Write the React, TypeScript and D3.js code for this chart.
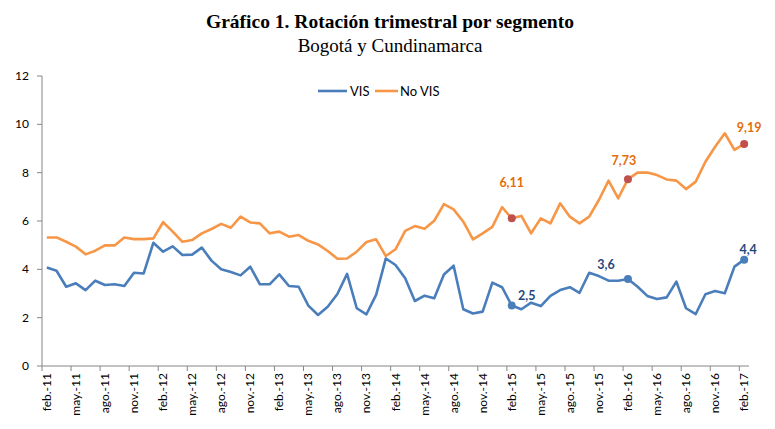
import React from "react";
import * as d3 from "d3";

const meses = ["ene.", "feb.", "mar.", "abr.", "may.", "jun.", "jul.", "ago.", "sep.", "oct.", "nov.", "dic."];

// feb-11 ... feb-17, mensual
const categorias: string[] = [];
for (let i = 0; i < 73; i++) {
  const m = (1 + i) % 12;
  const a = 11 + Math.floor((1 + i) / 12);
  categorias.push(meses[m] + "-" + a);
}

const vis = [
  4.08, 3.94, 3.28, 3.42, 3.14, 3.53, 3.35, 3.38, 3.31, 3.86, 3.83, 5.1, 4.73,
  4.95, 4.59, 4.61, 4.9, 4.36, 4.0, 3.89, 3.75, 4.11, 3.38, 3.38, 3.79,
  3.31, 3.28, 2.5, 2.11, 2.45, 2.98, 3.81, 2.39, 2.14, 2.94, 4.45, 4.18, 3.63,
  2.69, 2.91, 2.8, 3.79, 4.15, 2.35, 2.17, 2.25, 3.45, 3.26, 2.5, 2.35,
  2.62, 2.48, 2.9, 3.14, 3.26, 3.03, 3.86, 3.72, 3.53, 3.53, 3.6, 3.28,
  2.9, 2.77, 2.84, 3.49, 2.39, 2.15, 2.97, 3.1, 3.01, 4.11, 4.4,
];

const noVis = [
  5.32, 5.32, 5.14, 4.94, 4.62, 4.77, 4.99, 4.99, 5.32, 5.25, 5.25, 5.28, 5.95,
  5.56, 5.14, 5.21, 5.49, 5.67, 5.88, 5.72, 6.18, 5.94, 5.9, 5.49, 5.56,
  5.35, 5.42, 5.18, 5.03, 4.76, 4.44, 4.45, 4.73, 5.13, 5.24, 4.55, 4.83, 5.59,
  5.79, 5.68, 6.01, 6.7, 6.48, 5.97, 5.24, 5.49, 5.76, 6.57, 6.11, 6.21,
  5.49, 6.11, 5.9, 6.73, 6.18, 5.9, 6.18, 6.87, 7.67, 6.94, 7.73, 8.0,
  8.01, 7.9, 7.72, 7.67, 7.32, 7.63, 8.45, 9.07, 9.63, 8.94, 9.19,
];

// puntos destacados (feb-15, feb-16, feb-17)
const destacados = [48, 60, 72];
const etiquetasVis = ["2,5", "3,6", "4,4"];
const etiquetasNoVis = ["6,11", "7,73", "9,19"];
const yTicks = [0, 2, 4, 6, 8, 10, 12];

const azul = "#4A7EBB";
const naranja = "#F79646";

export default function App() {
  const x = d3.scaleBand<number>().domain(d3.range(73)).range([42, 749]);
  const y = d3.scaleLinear().domain([0, 12]).range([366, 76]);
  const cx = (i: number) => (x(i) as number) + x.bandwidth() / 2;

  const linea = d3
    .line<number>()
    .x((_, i) => cx(i))
    .y((d) => y(d));

  const ticksX = d3.range(0, 74, 3);

  // desplazamiento de las etiquetas respecto al punto
  const offVis = [[15, -6], [-22, -10], [4, -6]];
  const offNo = [[0, -31], [-4, -14], [5, -12]];

  return (
    <svg width={775} height={429} style={{ position: "absolute", left: 0, top: 0 }}>
      <rect width={775} height={429} fill="#fff" />
      <text x={390} y={28} textAnchor="middle" fontFamily="Liberation Serif" fontWeight="bold" fontSize={19.5}>
        Gráfico 1. Rotación trimestral  por segmento
      </text>
      <text x={390} y={52} textAnchor="middle" fontFamily="Liberation Serif" fontSize={19}>
        Bogotá y Cundinamarca
      </text>

      {/* eje y */}
      <line x1={42} x2={42} y1={y(12)} y2={y(0)} stroke="#868686" />
      {yTicks.map((t) => (
        <g key={t}>
          <line x1={37} x2={42} y1={y(t)} y2={y(t)} stroke="#868686" />
          <text x={29} y={y(t) + 4} textAnchor="end" fontFamily="Lato" fontSize={12} fill="#000">
            {t}
          </text>
        </g>
      ))}

      {/* eje x */}
      <line x1={42} x2={749} y1={y(0)} y2={y(0)} stroke="#868686" />
      {ticksX.map((i) => (
        <line key={i} x1={42 + i * x.step()} x2={42 + i * x.step()} y1={366} y2={371} stroke="#868686" />
      ))}
      {ticksX
        .filter((i) => i < 73)
        .map((i) => (
          <text
            key={"l" + i}
            transform={`translate(${cx(i) + 4},373) rotate(-90)`}
            textAnchor="end"
            fontFamily="Lato"
            fontSize={12}
            fill="#000"
          >
            {categorias[i]}
          </text>
        ))}

      {/* series */}
      <path d={linea(noVis) as string} fill="none" stroke={naranja} strokeWidth={2.6} strokeLinejoin="round" />
      <path d={linea(vis) as string} fill="none" stroke={azul} strokeWidth={2.6} strokeLinejoin="round" />

      {destacados.map((i, k) => (
        <g key={"d" + i}>
          <circle cx={cx(i)} cy={y(noVis[i])} r={4} fill="#C0504D" />
          <text
            x={cx(i) + offNo[k][0]}
            y={y(noVis[i]) + offNo[k][1]}
            textAnchor="middle"
            fontFamily="Lato"
            fontWeight="bold"
            fontSize={12.5}
            fill="#E46C0A"
          >
            {etiquetasNoVis[k]}
          </text>
          <circle cx={cx(i)} cy={y(vis[i])} r={4} fill={azul} />
          <text
            x={cx(i) + offVis[k][0]}
            y={y(vis[i]) + offVis[k][1]}
            textAnchor="middle"
            fontFamily="Lato"
            fontWeight="bold"
            fontSize={12.5}
            fill="#1F497D"
          >
            {etiquetasVis[k]}
          </text>
        </g>
      ))}

      {/* leyenda */}
      <line x1={318} x2={347} y1={91} y2={91} stroke={azul} strokeWidth={2.6} />
      <text x={350} y={96} fontFamily="Lato" fontSize={13} fill="#000">VIS</text>
      <line x1={375} x2={398} y1={91} y2={91} stroke={naranja} strokeWidth={2.6} />
      <text x={400} y={96} fontFamily="Lato" fontSize={13} fill="#000">No VIS</text>
    </svg>
  );
}
